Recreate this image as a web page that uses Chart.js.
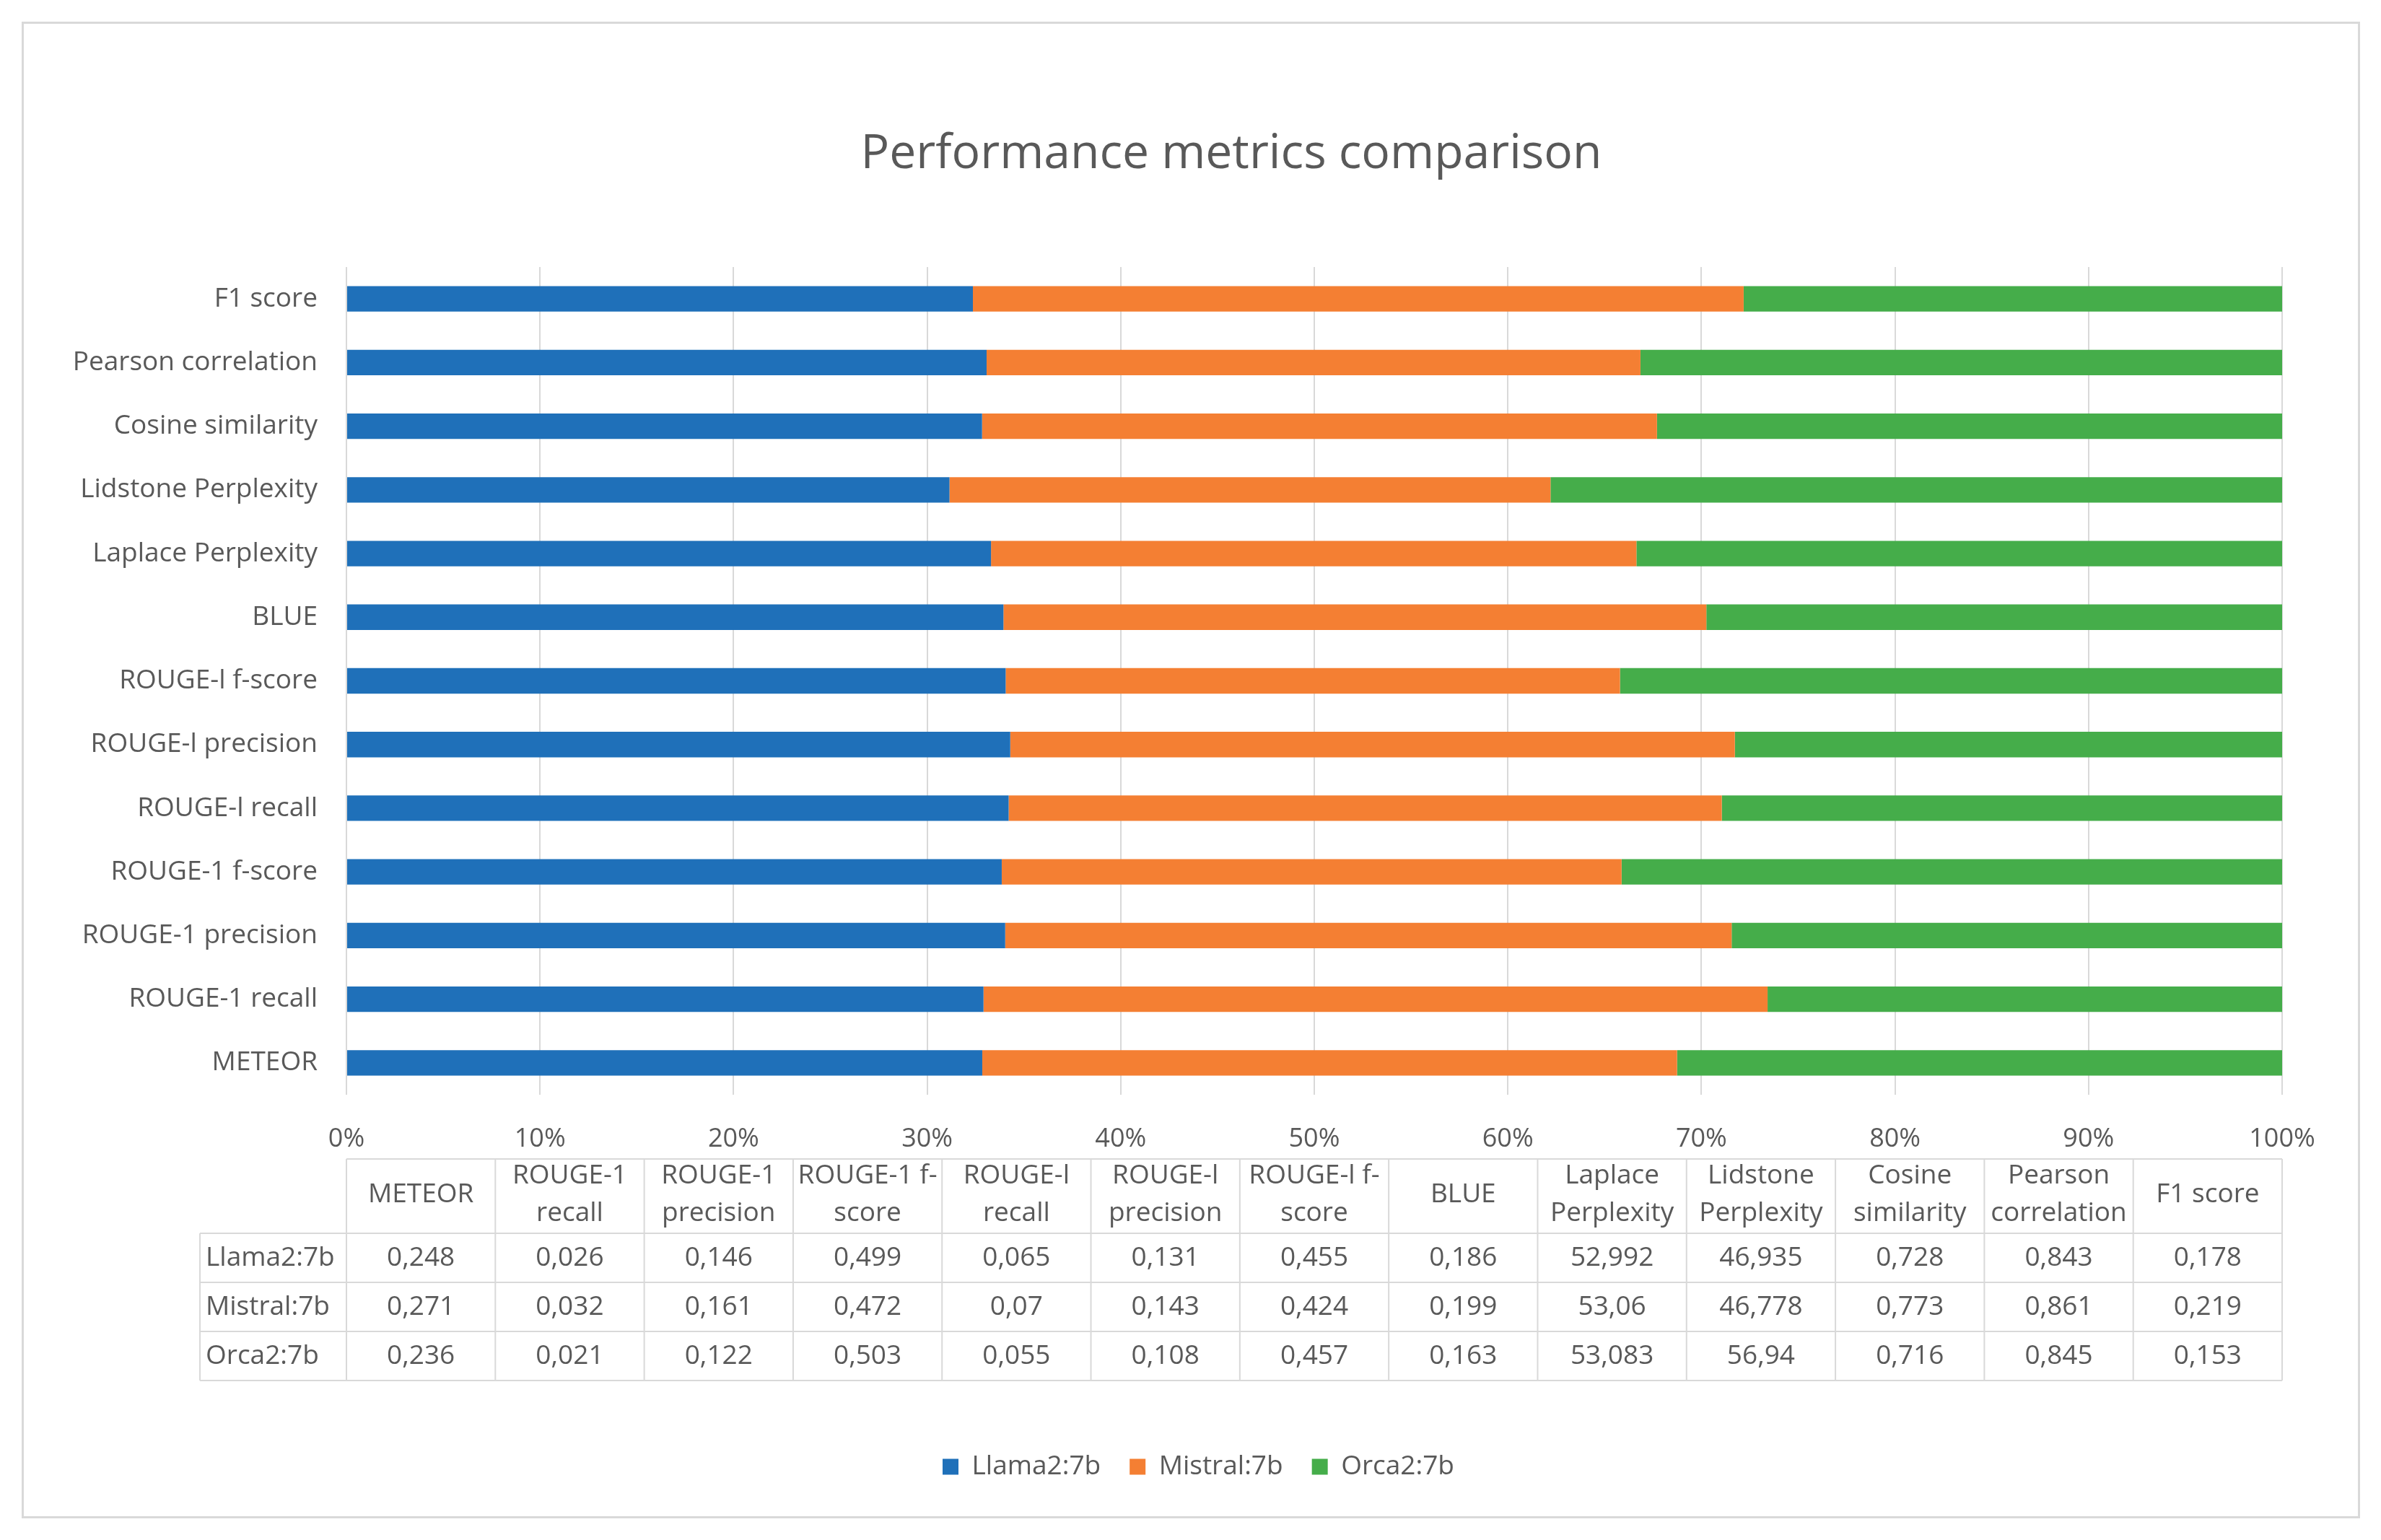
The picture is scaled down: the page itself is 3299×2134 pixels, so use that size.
<!DOCTYPE html>
<html>
<head>
<meta charset="utf-8">
<title>Performance metrics comparison</title>
<script src="https://cdn.jsdelivr.net/npm/chart.js@4.4.1/dist/chart.umd.min.js"></script>
<style>
  html, body { margin: 0; padding: 0; background: #fff; overflow: hidden; }
  #frame {
    position: absolute; left: 30px; top: 30px;
    width: 3240px; height: 2074px;
    border: 3px solid #d9d9d9; box-sizing: border-box;
  }
  #frame canvas { display: block; }
</style>
</head>
<body>
<div id="frame"><canvas id="metricsChart"></canvas></div>
<script>
// metrics, bottom-to-top on the chart, left-to-right in the table
const categories = [
  'METEOR', 'ROUGE-1 recall', 'ROUGE-1 precision', 'ROUGE-1 f-score',
  'ROUGE-l recall', 'ROUGE-l precision', 'ROUGE-l f-score', 'BLUE',
  'Laplace Perplexity', 'Lidstone Perplexity', 'Cosine similarity',
  'Pearson correlation', 'F1 score',
]
// header cells of the data table, wrapped the way the source shows them
const headerLines = [
  ['METEOR'], ['ROUGE-1', 'recall'], ['ROUGE-1', 'precision'], ['ROUGE-1 f-', 'score'],
  ['ROUGE-l', 'recall'], ['ROUGE-l', 'precision'], ['ROUGE-l f-', 'score'], ['BLUE'],
  ['Laplace', 'Perplexity'], ['Lidstone', 'Perplexity'], ['Cosine', 'similarity'],
  ['Pearson', 'correlation'], ['F1 score'],
]
const seriesNames = ['Llama2:7b', 'Mistral:7b', 'Orca2:7b']
const llama = [0.248, 0.026, 0.146, 0.499, 0.065, 0.131, 0.455, 0.186, 52.992, 46.935, 0.728, 0.843, 0.178]
const mistral = [0.271, 0.032, 0.161, 0.472, 0.07, 0.143, 0.424, 0.199, 53.06, 46.778, 0.773, 0.861, 0.219]
const orca = [0.236, 0.021, 0.122, 0.503, 0.055, 0.108, 0.457, 0.163, 53.083, 56.94, 0.716, 0.845, 0.153]
const percentTicks = [0, 10, 20, 30, 40, 50, 60, 70, 80, 90, 100]
const chartTitle = 'Performance metrics comparison'

const colors = ['#1f70b9', '#f47f33', '#45ad4a']
const textColor = '#595959'
const lineColor = '#d9d9d9'
const fontFamily = '"Open Sans", "Noto Sans", sans-serif'

// 100% stacked: every metric is shown as its share of the three models' sum
const rawSeries = [llama, mistral, orca]
const totals = categories.map((_, i) => llama[i] + mistral[i] + orca[i])
const shares = (values) => values.map((v, i) => (v / totals[i]) * 100)
const fmt = (v) => String(v).replace('.', ',')

// the title sits a bit right of the canvas centre, as in the source
const titlePlugin = {
  id: 'offsetTitle',
  afterDraw(chart) {
    const { ctx } = chart
    ctx.save()
    ctx.fillStyle = textColor
    ctx.font = '66px ' + fontFamily
    ctx.textAlign = 'center'
    ctx.textBaseline = 'middle'
    ctx.fillText(chartTitle, 1673, 181)
    ctx.restore()
  },
}

// legend is centred on the whole frame, not on the padded layout box
const legendShift = {
  id: 'legendShift',
  afterLayout(chart) {
    const lg = chart.legend
    if (!lg) return
    lg.left += 63
    lg.right += 63
  },
}

const dataTablePlugin = {
  id: 'dataTable',
  afterDraw(chart) {
    const { ctx, chartArea } = chart
    const x0 = chartArea.left
    const x1 = chartArea.right
    const colW = (x1 - x0) / categories.length
    const top = chart.scales.x.top + 89
    const headH = 103
    const rowH = 68
    const labelLeft = 244
    const bottom = top + headH + rowH * rawSeries.length

    ctx.save()
    ctx.strokeStyle = lineColor
    ctx.lineWidth = 2
    ctx.beginPath()
    ctx.moveTo(x0, top); ctx.lineTo(x1, top)
    for (let r = 0; r <= rawSeries.length; r++) {
      const y = top + headH + r * rowH
      ctx.moveTo(labelLeft, y); ctx.lineTo(x1, y)
    }
    ctx.moveTo(labelLeft, top + headH); ctx.lineTo(labelLeft, bottom)
    for (let c = 0; c <= categories.length; c++) {
      const x = x0 + c * colW
      ctx.moveTo(x, top); ctx.lineTo(x, bottom)
    }
    ctx.stroke()

    ctx.fillStyle = textColor
    ctx.font = '37px ' + fontFamily
    ctx.textBaseline = 'middle'
    ctx.textAlign = 'center'
    headerLines.forEach((lines, c) => {
      const cx = x0 + (c + 0.5) * colW
      const cy = top + headH / 2 - 2
      const step = 52
      lines.forEach((txt, k) => {
        ctx.fillText(txt, cx, cy + (k - (lines.length - 1) / 2) * step)
      })
    })
    rawSeries.forEach((values, r) => {
      const cy = top + headH + (r + 0.5) * rowH
      ctx.textAlign = 'left'
      ctx.fillText(seriesNames[r], labelLeft + 8, cy)
      ctx.textAlign = 'center'
      values.forEach((v, c) => ctx.fillText(fmt(v), x0 + (c + 0.5) * colW, cy))
    })
    ctx.restore()
  },
}

const canvas = document.getElementById('metricsChart')
new Chart(canvas, {
  type: 'bar',
  data: {
    labels: categories,
    datasets: rawSeries.map((values, i) => ({
      label: seriesNames[i],
      data: shares(values),
      backgroundColor: colors[i],
      borderWidth: 0,
      barPercentage: 0.4,
      categoryPercentage: 1,
    })),
  },
  options: {
    indexAxis: 'y',
    responsive: true,
    maintainAspectRatio: false,
    animation: false,
    layout: { padding: { left: 0, right: 105, top: 337, bottom: 40 } },
    scales: {
      x: {
        stacked: true,
        min: 0,
        max: 100,
        afterBuildTicks: (scale) => { scale.ticks = percentTicks.map((v) => ({ value: v })) },
        afterFit: (scale) => { scale.height = 457 },
        grid: { color: lineColor, lineWidth: 2, drawTicks: false },
        border: { display: false },
        ticks: {
          color: textColor,
          font: { family: fontFamily, size: 36 },
          padding: 40,
          maxRotation: 0,
          callback: (v) => v + '%',
        },
      },
      y: {
        stacked: true,
        reverse: true,
        afterFit: (scale) => { scale.width = 447 },
        grid: { display: false, drawTicks: false },
        border: { display: false },
        ticks: {
          color: textColor,
          font: { family: fontFamily, size: 37 },
          padding: 40,
        },
      },
    },
    plugins: {
      title: { display: false },
      legend: {
        position: 'bottom',
        labels: {
          color: textColor,
          font: { family: fontFamily, size: 37 },
          boxWidth: 22,
          boxHeight: 22,
          padding: 40,
        },
      },
      tooltip: { enabled: false },
    },
  },
  plugins: [dataTablePlugin, titlePlugin, legendShift],
})
</script>
</body>
</html>
